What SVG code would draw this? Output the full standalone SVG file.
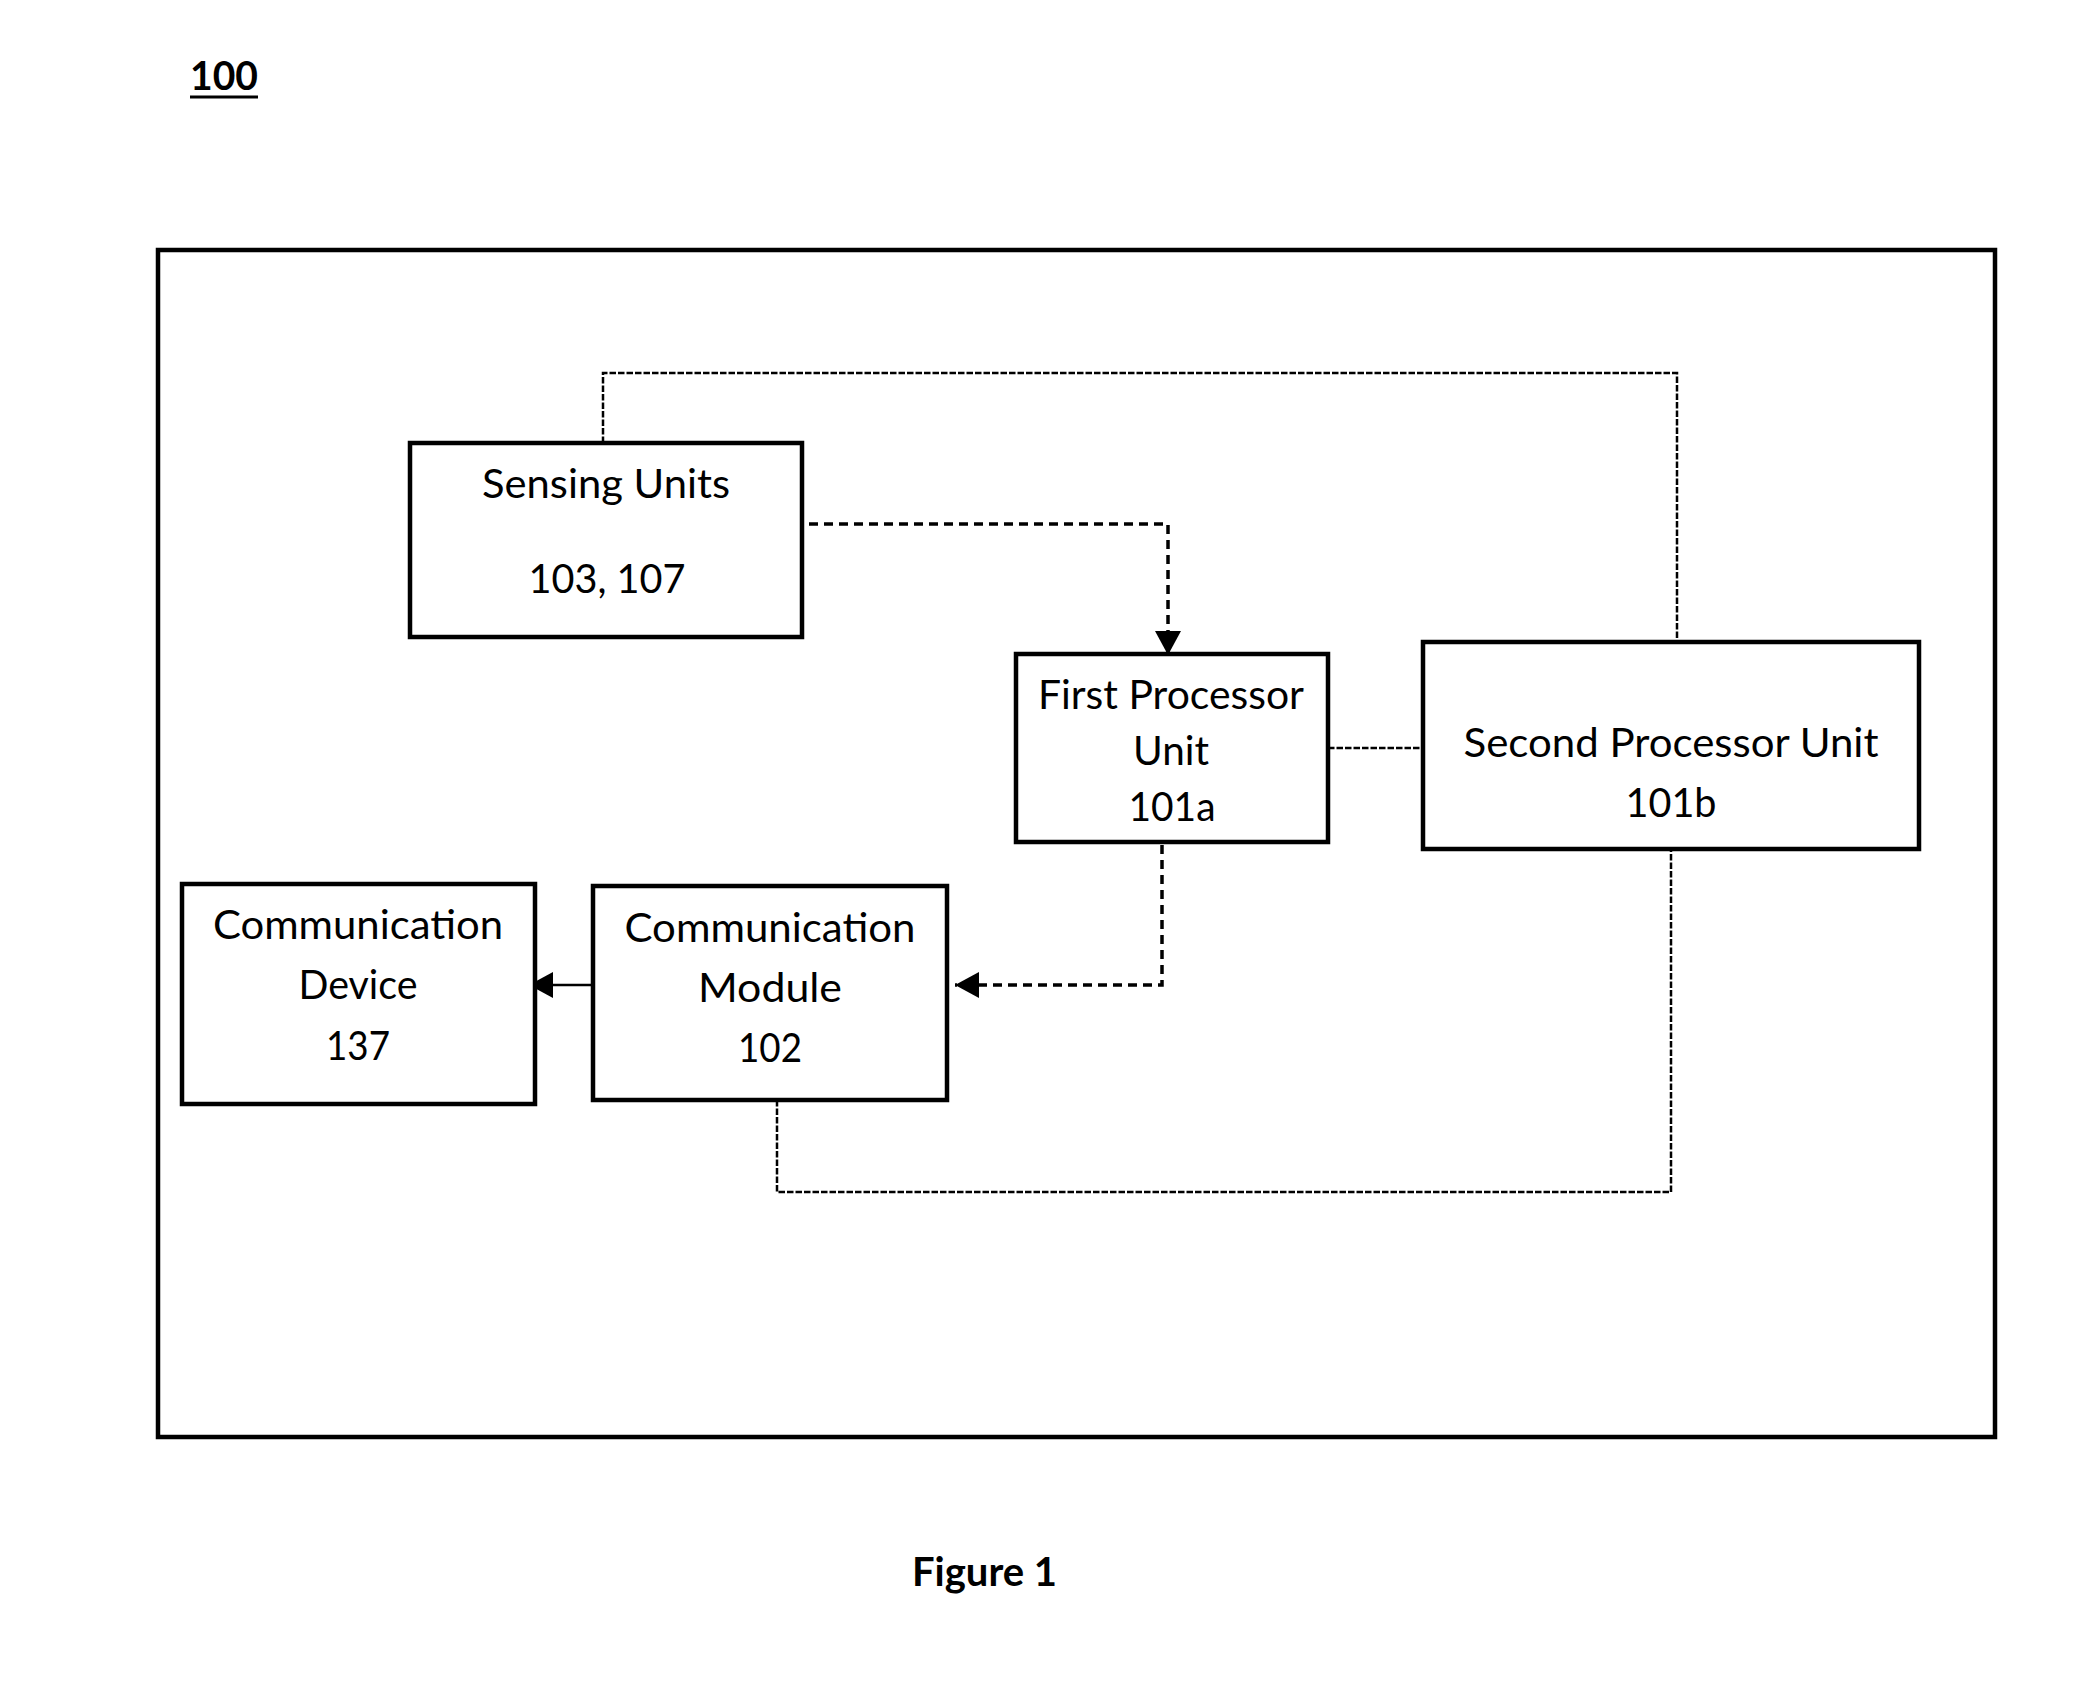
<svg xmlns="http://www.w3.org/2000/svg" width="2090" height="1704" viewBox="0 0 2090 1704">
<style>
  .box { fill: #fff; stroke: #000; stroke-width: 4.5; }
  .frame { fill: none; stroke: #000; stroke-width: 4.5; }
  .t { font-family: Lato, "Liberation Sans", sans-serif; font-size: 40px; fill: #000; text-anchor: middle; }
  .b { font-family: Lato, "Liberation Sans", sans-serif; font-size: 40px; font-weight: bold; fill: #000; }
  .thin { fill: none; stroke: #000; stroke-width: 2.5; stroke-dasharray: 6.5 2; }
  .thick { fill: none; stroke: #000; stroke-width: 3.5; stroke-dasharray: 9 6; }
  .solid { fill: none; stroke: #000; stroke-width: 2.7; }
</style>
<defs>
  <marker id="arrow" viewBox="0 0 24 26" refX="24" refY="13" markerWidth="24" markerHeight="26" markerUnits="userSpaceOnUse" orient="auto">
    <path d="M0,0 L24,13 L0,26 z" fill="#000"/>
  </marker>
</defs>
<rect width="2090" height="1704" fill="#fff"/>

<g id="title">
  <text class="b" x="190" y="90" textLength="68" lengthAdjust="spacingAndGlyphs">100</text>
  <line x1="190" y1="97" x2="258" y2="97" stroke="#000" stroke-width="3"/>
</g>

<g id="system-100">
  <rect class="frame" x="158" y="250" width="1837" height="1187"/>
</g>

<g id="connectors">
  <path class="thin" d="M603,443 V373 H1677 V642"/>
  <path class="thin" d="M1328,748 H1423"/>
  <path class="thin" d="M777,1100 V1192 H1671 V849"/>
  <path class="thick" d="M809,524 H1168 V655" marker-end="url(#arrow)"/>
  <path class="thick" d="M1162,845 V985 H955" marker-end="url(#arrow)"/>
  <path class="solid" d="M593,985 H529" marker-end="url(#arrow)"/>
</g>

<g id="sensing-units">
  <rect class="box" x="410" y="443" width="392" height="194"/>
  <text class="t" x="606" y="498" textLength="248" lengthAdjust="spacingAndGlyphs">Sensing Units</text>
  <text class="t" x="607" y="593" textLength="157" lengthAdjust="spacingAndGlyphs">103, 107</text>
</g>

<g id="first-processor">
  <rect class="box" x="1016" y="654" width="312" height="188"/>
  <text class="t" x="1171" y="709" textLength="266" lengthAdjust="spacingAndGlyphs">First Processor</text>
  <text class="t" x="1171" y="765" textLength="76" lengthAdjust="spacingAndGlyphs">Unit</text>
  <text class="t" x="1172" y="821" textLength="87" lengthAdjust="spacingAndGlyphs">101a</text>
</g>

<g id="second-processor">
  <rect class="box" x="1423" y="642" width="496" height="207"/>
  <text class="t" x="1671" y="757" textLength="415" lengthAdjust="spacingAndGlyphs">Second Processor Unit</text>
  <text class="t" x="1671" y="817" textLength="91" lengthAdjust="spacingAndGlyphs">101b</text>
</g>

<g id="communication-device">
  <rect class="box" x="182" y="884" width="353" height="220"/>
  <text class="t" x="358" y="939" textLength="290" lengthAdjust="spacingAndGlyphs">Communication</text>
  <text class="t" x="358" y="999" textLength="119" lengthAdjust="spacingAndGlyphs">Device</text>
  <text class="t" x="358" y="1060" textLength="64" lengthAdjust="spacingAndGlyphs">137</text>
</g>

<g id="communication-module">
  <rect class="box" x="593" y="886" width="354" height="214"/>
  <text class="t" x="770" y="942" textLength="291" lengthAdjust="spacingAndGlyphs">Communication</text>
  <text class="t" x="770" y="1002" textLength="144" lengthAdjust="spacingAndGlyphs">Module</text>
  <text class="t" x="770" y="1062" textLength="64" lengthAdjust="spacingAndGlyphs">102</text>
</g>

<g id="caption">
  <text class="b" x="912" y="1586" textLength="145" lengthAdjust="spacingAndGlyphs">Figure 1</text>
</g>
</svg>
